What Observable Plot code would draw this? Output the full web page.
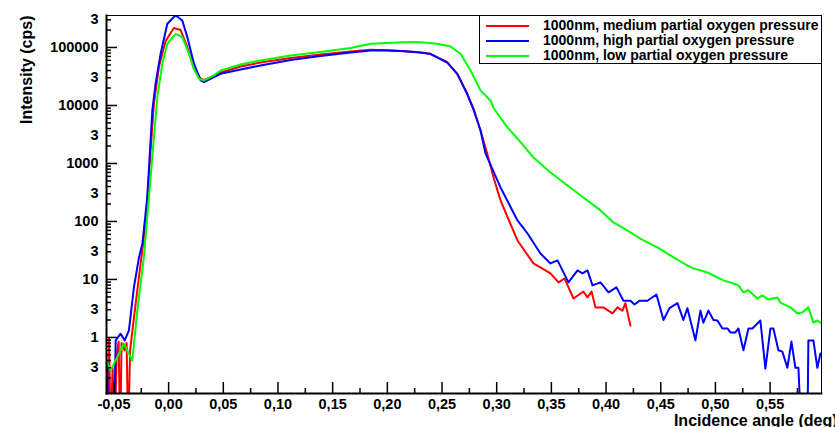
<!DOCTYPE html>
<html><head><meta charset="utf-8">
<script src="https://cdn.jsdelivr.net/npm/d3@7"></script>
<script src="https://cdn.jsdelivr.net/npm/@observablehq/plot@0.6"></script>
<style>
body{margin:0;background:#fff;}
#wrap{position:relative;width:835px;height:427px;overflow:hidden;font-family:"Liberation Sans",Arial,sans-serif;font-weight:bold;}
#legend{position:absolute;left:479px;top:15px;width:343px;height:49px;box-sizing:border-box;border:1px solid #000;background:#fff;}
.item{position:absolute;left:0;height:15px;width:340px;}
.swatch{position:absolute;left:6px;width:43px;height:0;border-top:2px solid;top:7px;}
.label{position:absolute;left:63px;top:-1px;font-size:14px;line-height:16px;white-space:nowrap;color:#000;}
</style>
</head><body>
<div id="wrap"><div id="legend"></div></div>
<script>
// ---- data ----
const seriesNames = ["1000nm, medium partial oxygen pressure","1000nm, high partial oxygen pressure","1000nm, low partial oxygen pressure"];
const seriesColors = ["#ff0000","#0000ff","#00ff00"];

const redAngle = [-0.0558,-0.0544,-0.0530,-0.0512,-0.0494,-0.0475,-0.0457,-0.0443,-0.0430,-0.0402,-0.0384,-0.0370,-0.0352,-0.0317,-0.0256,-0.0210,-0.0165,-0.0134,-0.0089,-0.0027,0.0048,0.0110,0.0171,0.0231,0.0293,0.0323,0.0354,0.0475,0.0658,0.0841,0.1115,0.1389,0.1664,0.1846,0.2000,0.2148,0.2303,0.2395,0.2548,0.2639,0.2730,0.2791,0.2852,0.2913,0.2974,0.3035,0.3190,0.3336,0.3492,0.3565,0.3620,0.3702,0.3793,0.3830,0.3867,0.3903,0.3976,0.4059,0.4104,0.4150,0.4177,0.4223];
const redCounts = [0.02,0.95,0.02,0.3,0.02,0.5,0.85,0.02,0.8,0.6,0.8,0.02,0.6,2.2,19,92,1680,11000,46000,130000,217000,200000,101000,42900,28900,27500,29000,37100,47000,55100,65900,75700,85300,91000,90000,87000,82000,77800,55800,35200,15900,8500,3710,1490,551,230,47,18.9,12.7,8.9,10.4,4.7,6.2,4.9,6.2,3.3,3.3,2.6,3.3,2.9,3.9,1.6];

const blueAngle = [-0.0562,-0.0548,-0.0500,-0.0484,-0.0439,-0.0402,-0.0363,-0.0317,-0.0271,-0.0240,-0.0195,-0.0149,-0.0119,-0.0073,-0.0012,0.0064,0.0125,0.0171,0.0231,0.0293,0.0323,0.0475,0.0658,0.0841,0.1115,0.1389,0.1664,0.1846,0.2000,0.2148,0.2303,0.2395,0.2548,0.2639,0.2730,0.2791,0.2852,0.2898,0.2974,0.3035,0.3190,0.3282,0.3400,0.3492,0.3556,0.3656,0.3739,0.3784,0.3830,0.3876,0.3949,0.4022,0.4095,0.4159,0.4223,0.4260,0.4305,0.4378,0.4461,0.4525,0.4580,0.4653,0.4707,0.4744,0.4817,0.4863,0.4890,0.4936,0.4982,0.5018,0.5064,0.5110,0.5137,0.5183,0.5210,0.5256,0.5302,0.5338,0.5411,0.5457,0.5503,0.5530,0.5576,0.5612,0.5658,0.5695,0.5731,0.5759,0.5786,0.5841,0.5850,0.5896,0.5932,0.5960];
const blueCounts = [0.35,0.02,0.02,0.89,1.16,0.89,1.32,7.4,24,41,262,8200,24000,78000,256000,360000,292000,151000,53000,27000,25200,35200,41800,49000,60900,71300,82000,88700,89000,86000,82000,77000,55000,35000,15900,8200,3710,1490,700,386,104,62,28,18.9,21.3,8.9,14.3,12.7,14.3,7.9,8.9,6.0,7.3,4.3,4.3,3.7,4.3,4.3,5.5,2.0,3.2,3.9,2.0,3.2,0.89,2.9,1.8,2.9,2.0,1.96,1.43,1.43,1.22,1.22,1.43,0.60,1.43,1.43,1.96,0.29,1.43,1.43,0.60,0.57,0.30,0.85,0.30,0.30,0.02,0.02,0.89,0.89,0.30,0.53];

const greenAngle = [-0.0568,-0.0530,-0.0409,-0.0332,-0.0286,-0.0226,-0.0180,-0.0134,-0.0103,-0.0058,-0.0012,0.0064,0.0125,0.0186,0.0231,0.0277,0.0323,0.0414,0.0475,0.0658,0.0841,0.1115,0.1389,0.1664,0.1846,0.2148,0.2303,0.2456,0.2578,0.2669,0.2761,0.2852,0.2943,0.2974,0.3096,0.3218,0.3336,0.3492,0.3647,0.3793,0.3949,0.4068,0.4223,0.4342,0.4470,0.4616,0.4744,0.4799,0.4927,0.4982,0.5073,0.5137,0.5210,0.5256,0.5302,0.5384,0.5430,0.5484,0.5567,0.5594,0.5686,0.5750,0.5795,0.5850,0.5896,0.5932,0.5960];
const greenCounts = [0.40,0.27,0.78,0.40,2.9,24.2,262,2840,13900,52400,116000,172000,151000,78000,42900,28900,27000,32900,40100,50900,59700,72800,83600,98000,116000,123000,123000,116000,104000,77800,40100,18200,12200,8870,4230,2330,1270,700,418,259,155,96,65,47,35.6,24,17.4,15.5,13.2,11.7,9.6,8.9,7.9,6.0,6.5,4.7,5.3,4.5,4.9,4.0,3.3,2.6,2.7,3.3,1.8,1.96,1.8];

const xDomain = [-0.0568, 0.597];
const yDomain = [0.108, 356000];
const xMajorTicks = [-0.05,0,0.05,0.10,0.15,0.20,0.25,0.30,0.35,0.40,0.45,0.50,0.55];
const xMinorTicks = [-0.025,0.025,0.075,0.125,0.175,0.225,0.275,0.325,0.375,0.425,0.475,0.525,0.575];
const yMajorTicks = [1,10,100,1000,10000,100000];
const yLabelTicks = [0.3,1,3,10,30,100,300,1000,3000,10000,30000,100000,300000];
const xTitle = "Incidence angle (deg)";
const yTitle = "Intensity (cps)";

// ---- derived ----
const yMinorTicks = [];
for (const d of [0.1,1,10,100,1000,10000,100000]) for (let m = 2; m <= 9; m++) {
  const v = m * d; if (v >= yDomain[0] && v <= yDomain[1]) yMinorTicks.push(v);
}
const toRows = (xs, ys) => xs.map((x, i) => ({x, y: ys[i]}));
const curves = [toRows(redAngle, redCounts), toRows(blueAngle, blueCounts), toRows(greenAngle, greenCounts)];
const fmtX = v => d3.format(".2f")(v).replace(".", ",").replace("−","-");
const fmtY = v => (String(v).replace("0.","")[0] === "3") ? "3" : d3.format("d")(v);

const chart = Plot.plot({
  width: 835, height: 427,
  marginLeft: 106, marginRight: 14, marginTop: 15, marginBottom: 34,
  style: {fontFamily: "'Liberation Sans', Arial, sans-serif", fontWeight: "bold", fontSize: "14.5px", color: "#000", background: "#fff"},
  x: {type: "linear", domain: xDomain},
  y: {type: "log", domain: yDomain},
  marks: [
    ...curves.map((rows, i) => Plot.line(rows, {x: "x", y: "y", stroke: seriesColors[i], strokeWidth: 2, clip: true})),
    Plot.frame({stroke: "#000", strokeWidth: 1}),
    Plot.axisX({ticks: xMajorTicks, tickSize: 11, dy: -11, tickFormat: () => "", label: null, strokeWidth: 1.5}),
    Plot.axisX({ticks: xMinorTicks, tickSize: 5, dy: -5, tickFormat: () => "", label: null, strokeWidth: 1.5}),
    Plot.axisX({ticks: xMajorTicks, tickSize: 0, tickPadding: 5, tickFormat: fmtX, label: null}),
    Plot.axisY({ticks: yMajorTicks, tickSize: 11, dx: 11, tickFormat: () => "", label: null, strokeWidth: 1.5}),
    Plot.axisY({ticks: yMinorTicks, tickSize: 5, dx: 5, tickFormat: () => "", label: null, strokeWidth: 1.5}),
    Plot.text(yLabelTicks, {y: d => d, text: fmtY, frameAnchor: "left", textAnchor: "end", dx: -8}),
    Plot.frame({anchor: "bottom", stroke: "#000", strokeWidth: 2}),
    Plot.frame({anchor: "left", stroke: "#000", strokeWidth: 2}),
    Plot.text([yTitle], {frameAnchor: "top-left", rotate: -90, textAnchor: "end", dx: -86, fontSize: 16}),
    Plot.text([xTitle], {frameAnchor: "bottom-right", textAnchor: "end", lineAnchor: "middle", dx: 16, dy: 27, fontSize: 16})
  ]
});
document.getElementById("wrap").prepend(chart);

const legend = document.getElementById("legend");
seriesNames.forEach((name, i) => {
  const item = document.createElement("div");
  item.className = "item";
  item.style.top = (2 + i * 15) + "px";
  const sw = document.createElement("div");
  sw.className = "swatch"; sw.style.borderColor = seriesColors[i];
  const lb = document.createElement("div");
  lb.className = "label"; lb.textContent = name;
  item.append(sw, lb);
  legend.append(item);
});
</script>
</body></html>
